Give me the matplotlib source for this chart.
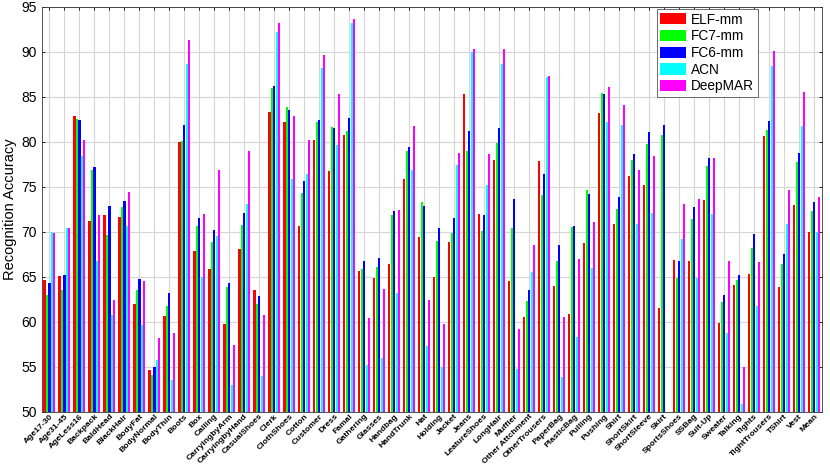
import numpy as np
import matplotlib.pyplot as plt

categories = ["Age17-30", "Age31-45", "AgeLess16", "Backpack", "BaldHead", "BlackHair",
              "BodyFat", "BodyNormal", "BodyThin", "Boots", "Box", "Calling",
              "CarryingbyArm", "CarryingbyHand", "CasualShoes", "Clerk", "ClothShoes",
              "Cotton", "Customer", "Dress", "Famal", "Gathering", "Glasses", "Handbag",
              "HandTrunk", "Hat", "Holding", "Jacket", "Jeans", "LeatureShoes", "LongHair",
              "Muffler", "Other Attchment", "OtherTrousers", "PaperBag", "PlasticBag",
              "Pulling", "Pushing", "Shirt", "ShortSkirt", "ShortSleeve", "Skirt",
              "SportsShoes", "SSBag", "Suit-Up", "Sweater", "Talking", "Tights",
              "TightTrousers", "TShirt", "Vest", "Mean"]

elf_mm = [64.6, 65.1, 82.9, 71.2, 71.9, 71.6, 62.0, 54.6, 60.6, 80.0, 67.8, 65.9,
          59.7, 68.1, 63.5, 83.3, 82.2, 70.6, 80.15, 76.7, 80.7, 65.6, 64.85, 66.4,
          75.85, 69.4, 65.0, 68.8, 85.3, 72.0, 78.0, 64.5, 60.5, 77.8, 63.96, 60.9,
          68.7, 83.15, 70.8, 76.2, 75.2, 61.5, 66.85, 66.7, 73.5, 59.9, 64.1, 65.3,
          80.6, 63.8, 73.0, 70.0]
fc7_mm = [63.0, 63.5, 82.5, 76.9, 69.6, 72.7, 63.5, 54.1, 61.7, 80.1, 70.6, 68.8,
          63.8, 70.7, 62.0, 86.0, 83.8, 74.3, 82.2, 81.6, 81.2, 65.8, 66.1, 71.85,
          79.0, 73.3, 69.0, 69.8, 79.0, 70.1, 79.9, 70.4, 62.3, 74.1, 66.7, 70.5,
          74.6, 85.4, 72.5, 78.0, 79.7, 80.7, 64.9, 71.4, 77.3, 62.2, 64.6, 68.15,
          81.3, 66.4, 77.7, 72.3]
fc6_mm = [64.3, 65.2, 82.4, 77.2, 72.9, 73.4, 64.7, 55.0, 63.15, 81.8, 71.5, 70.2,
          64.3, 72.1, 62.9, 86.2, 83.5, 75.6, 82.4, 81.5, 82.6, 66.7, 67.1, 72.3,
          79.4, 72.9, 70.4, 71.5, 81.2, 71.8, 81.5, 73.6, 63.5, 76.4, 68.5, 70.6,
          74.15, 85.3, 73.9, 78.6, 81.1, 81.85, 66.7, 72.7, 78.2, 63.0, 65.15, 69.7,
          82.3, 67.5, 78.7, 73.3]
acn = [70.0, 70.45, 78.4, 66.7, 60.7, 70.6, 59.6, 55.7, 53.5, 88.6, 65.0, 69.5,
       53.0, 73.1, 54.0, 92.2, 75.85, 76.4, 88.2, 79.6, 93.15, 55.2, 56.0, 63.15,
       76.85, 57.3, 55.0, 77.4, 90.0, 75.2, 88.6, 54.7, 65.5, 87.2, 53.9, 58.3,
       66.0, 82.2, 81.85, 70.8, 72.1, np.nan, 69.2, 64.8, 72.0, 58.7, 50.85, 61.7,
       88.4, 70.8, 81.7, 69.96]
deepmar = [69.8, 70.45, 80.15, 71.9, 62.4, 74.4, 64.5, 58.15, 58.8, 91.3, 72.0, 76.9,
           57.4, 79.0, 60.7, 93.2, 82.8, 80.2, 89.6, 85.3, 93.6, 60.4, 63.6, 72.4,
           81.7, 62.4, 59.7, 78.7, 90.3, 78.6, 90.3, 59.15, 68.5, 87.3, 60.5, 67.0,
           71.1, 86.1, 84.1, 76.9, 78.4, np.nan, 73.1, 73.6, 78.15, 66.7, 55.0, 66.6,
           90.1, 74.6, 85.5, 73.8]

series = [("ELF-mm", elf_mm, "#ff0000"),
          ("FC7-mm", fc7_mm, "#00ff00"),
          ("FC6-mm", fc6_mm, "#0000ff"),
          ("ACN", acn, "#00ffff"),
          ("DeepMAR", deepmar, "#ff00ff")]

plt.rcParams['font.family'] = ['Liberation Sans', 'DejaVu Sans']

fig = plt.figure(figsize=(8.3, 4.67), dpi=100)
ax = fig.add_axes([0.0506, 0.1184, 0.9394, 0.8673])

x = np.arange(1, len(categories) + 1)
slot = 0.165
width = 0.14
for i, (name, vals, col) in enumerate(series):
    ax.bar(x + (i - 2) * slot, vals, width, color=col, label=name, zorder=3)

ax.set_xlim(0.5, len(categories) + 0.5)
ax.set_ylim(50, 95)
ax.set_yticks(np.arange(50, 96, 5))
ax.set_xticks(x)
ax.set_xticklabels(categories, rotation=45, ha="right", rotation_mode="anchor",
                   fontsize=6.1, fontweight="bold")
ax.tick_params(axis="y", labelsize=10)
ax.tick_params(direction="in", top=True, right=True, length=2.5, width=0.6)
ax.tick_params(axis="x", pad=0.8)
ax.set_ylabel("Recognition Accuracy", fontsize=10.5, labelpad=3)
ax.grid(True, color="#d6d6d6", linewidth=0.8, zorder=0)
for sp in ax.spines.values():
    sp.set_linewidth(0.6)
    sp.set_color("#333333")

leg = ax.legend(loc="upper right", bbox_to_anchor=(0.918, 0.994), fontsize=9.8,
                fancybox=False, framealpha=1, edgecolor="#555555",
                handlelength=1.9, handleheight=0.9, labelspacing=0.2,
                borderpad=0.25, handletextpad=0.4, borderaxespad=0)
leg.get_frame().set_linewidth(0.6)

fig.savefig("out.png", dpi=100)
